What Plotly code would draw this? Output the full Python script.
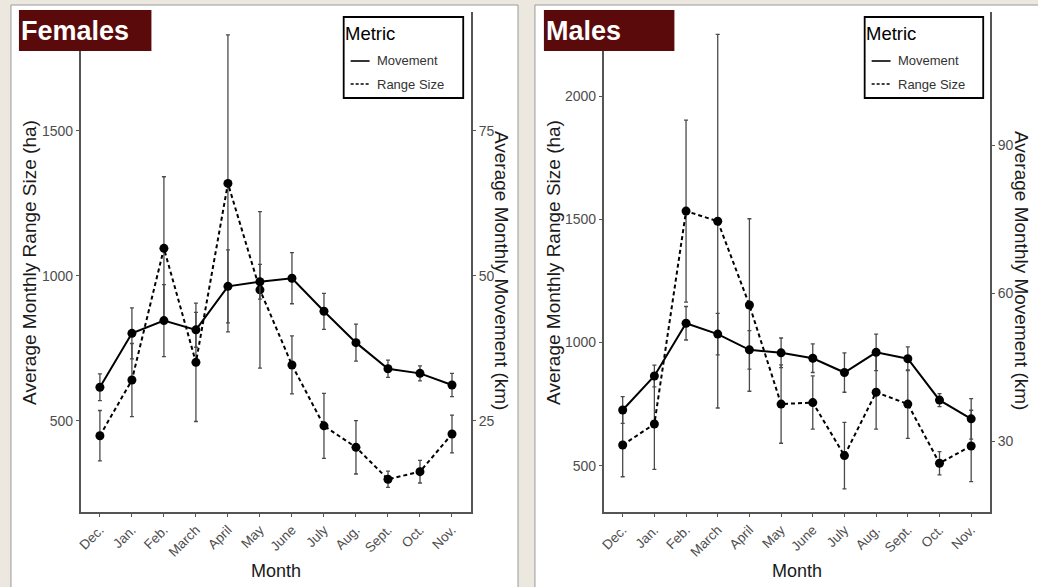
import plotly.graph_objects as go

W, H = 1038, 587

months = ["Dec.", "Jan.", "Feb.", "March", "April", "May", "June",
          "July", "Aug.", "Sept.", "Oct.", "Nov."]

# Females
f_range = [449, 641, 1095, 702, 1319, 952, 693, 483, 409, 299, 325, 455]
f_range_se = [87, 126, 247, 204, 512, 270, 100, 112, 92, 28, 39, 65]
f_move = [30.8, 40.1, 42.3, 40.7, 48.2, 49.0, 49.6, 43.9, 38.5, 34.0, 33.2, 31.2]
f_move_se = [2.3, 4.4, 6.2, 3.0, 6.3, 3.0, 4.4, 3.1, 3.2, 1.5, 1.3, 2.0]

# Males
m_range = [584, 669, 1533, 1492, 1152, 750, 756, 541, 798, 750, 510, 580]
m_range_se = [129, 184, 369, 758, 350, 159, 108, 135, 150, 139, 47, 145]
m_move = [36.3, 43.2, 53.9, 51.7, 48.5, 47.9, 46.8, 43.9, 48.0, 46.7, 38.3, 34.5]
m_move_se = [2.7, 2.2, 3.4, 4.2, 3.9, 3.0, 2.9, 4.0, 3.7, 2.4, 1.3, 4.1]

f_range_ticks = [500, 1000, 1500]
f_move_ticks = [25, 50, 75]
m_range_ticks = [500, 1000, 1500, 2000]
m_move_ticks = [30, 60, 90]

SCALE = 20  # secondary axis = primary / 20


def px(x):
    return x / W


def py(y):
    return 1 - y / H


FONT = "Liberation Sans, Arial, sans-serif"
AXC = "#555555"
TICKC = "#4d4d4d"
ERRC = "#4a4a4a"
BG = "#ECE8E0"

fig = go.Figure()


def add_series(xa, ya, yvals, se, dash, name):
    fig.add_trace(go.Scatter(
        x=months, y=yvals, xaxis=xa, yaxis=ya, name=name, showlegend=False,
        mode="lines+markers",
        line=dict(color="black", width=2, dash=dash),
        marker=dict(color="black", size=9),
        error_y=dict(type="data", array=se, visible=True, color=ERRC,
                     thickness=1.3, width=2),
    ))


add_series("x", "y", f_range, f_range_se, "4px,3px", "Range Size")
add_series("x", "y2", f_move, f_move_se, "solid", "Movement")
add_series("x2", "y3", m_range, m_range_se, "4px,3px", "Range Size")
add_series("x2", "y4", m_move, m_move_se, "solid", "Movement")

common_x = dict(
    type="category", range=[-0.6, 11.6], tickangle=-45, ticks="outside",
    ticklen=3, tickcolor=AXC, showline=True, linecolor=AXC, linewidth=1.5,
    showgrid=False, zeroline=False,
    tickfont=dict(family=FONT, size=13.5, color=TICKC),
)
common_y = dict(
    ticks="outside", ticklen=3, tickcolor=AXC, showline=True, linecolor=AXC,
    linewidth=1.5, showgrid=False, zeroline=False,
    tickfont=dict(family=FONT, size=14, color=TICKC),
)

ydom = [py(512), py(12)]
f_lo, f_hi = 186, 1910
m_lo, m_hi = 312, 2341

fig.update_layout(
    width=W, height=H,
    margin=dict(l=0, r=0, t=0, b=0),
    paper_bgcolor=BG,
    plot_bgcolor="rgba(0,0,0,0)",
    showlegend=False,
    xaxis=dict(domain=[px(77), px(469)], anchor="y", **common_x),
    yaxis=dict(domain=ydom, anchor="x", range=[f_lo, f_hi],
               tickvals=f_range_ticks, **common_y),
    yaxis2=dict(overlaying="y", side="right", anchor="x",
                range=[f_lo / SCALE, f_hi / SCALE], tickvals=f_move_ticks,
                **common_y),
    xaxis2=dict(domain=[px(602), px(990)], anchor="y3", **common_x),
    yaxis3=dict(domain=ydom, anchor="x2", range=[m_lo, m_hi],
                tickvals=m_range_ticks, **common_y),
    yaxis4=dict(overlaying="y3", side="right", anchor="x2",
                range=[m_lo / SCALE, m_hi / SCALE], tickvals=m_move_ticks,
                **common_y),
)

shapes = []
annots = []

# white panels
for x0, x1 in [(7, 516), (533, 1046)]:
    shapes.append(dict(type="rect", xref="paper", yref="paper",
                       x0=px(x0), x1=px(x1), y0=py(595), y1=py(5),
                       fillcolor="white", line=dict(color="#9a9a9a", width=1),
                       layer="below"))


def panel_deco(title, tx0, tx1, lx0, lx1, plot_l, plot_r, left_title_x,
               right_title_x):
    # title box
    shapes.append(dict(type="rect", xref="paper", yref="paper",
                       x0=px(tx0), x1=px(tx1), y0=py(51), y1=py(10),
                       fillcolor="#5A0A0A", line=dict(width=0), layer="above"))
    annots.append(dict(xref="paper", yref="paper", x=px(tx0 + 0), y=py(31),
                       xanchor="left", yanchor="middle", showarrow=False,
                       text="<b>%s</b>" % title,
                       font=dict(family=FONT, size=27, color="white")))
    # legend box
    shapes.append(dict(type="rect", xref="paper", yref="paper",
                       x0=px(lx0), x1=px(lx1), y0=py(98), y1=py(17),
                       fillcolor="white", line=dict(color="black", width=1.8),
                       layer="above"))
    annots.append(dict(xref="paper", yref="paper", x=px(lx0 - 1), y=py(33),
                       xanchor="left", yanchor="middle", showarrow=False,
                       text="Metric",
                       font=dict(family=FONT, size=18.5, color="black")))
    for yy, lab, dash in [(61, "Movement", "solid"),
                          (84, "Range Size", "dot")]:
        shapes.append(dict(type="line", xref="paper", yref="paper",
                           x0=px(lx0 + 7), x1=px(lx0 + 26), y0=py(yy),
                           y1=py(yy), layer="above",
                           line=dict(color="black", width=1.6,
                                     dash="3px,2px" if dash == "dot" else "solid")))
        annots.append(dict(xref="paper", yref="paper", x=px(lx0 + 31),
                           y=py(yy), xanchor="left", yanchor="middle",
                           showarrow=False, text=lab,
                           font=dict(family=FONT, size=13, color="#333333")))
    # axis titles
    annots.append(dict(xref="paper", yref="paper", x=px(left_title_x),
                       y=py(262), textangle=-90, showarrow=False,
                       xanchor="center", yanchor="middle",
                       text="Average Monthly Range Size (ha)",
                       font=dict(family=FONT, size=19, color="#1a1a1a")))
    annots.append(dict(xref="paper", yref="paper", x=px(right_title_x),
                       y=py(270), textangle=90, showarrow=False,
                       xanchor="center", yanchor="middle",
                       text="Average Monthly Movement (km)",
                       font=dict(family=FONT, size=19, color="#1a1a1a")))
    annots.append(dict(xref="paper", yref="paper", x=px((plot_l + plot_r) / 2),
                       y=py(571), showarrow=False, text="Month",
                       xanchor="center", yanchor="middle",
                       font=dict(family=FONT, size=18, color="#1a1a1a")))


panel_deco("Females", 15, 148, 341, 461, 77, 469, 25, 500)
panel_deco("Males", 542, 673, 864, 983, 602, 990, 551, 1022)

fig.update_layout(shapes=shapes, annotations=annots)

fig.write_html(
    "out.html",
    config={"displayModeBar": False},
    post_script=("document.body.style.margin='0';"
                 "document.body.style.background='%s';"
                 "document.documentElement.style.overflow='hidden';" % BG),
)
